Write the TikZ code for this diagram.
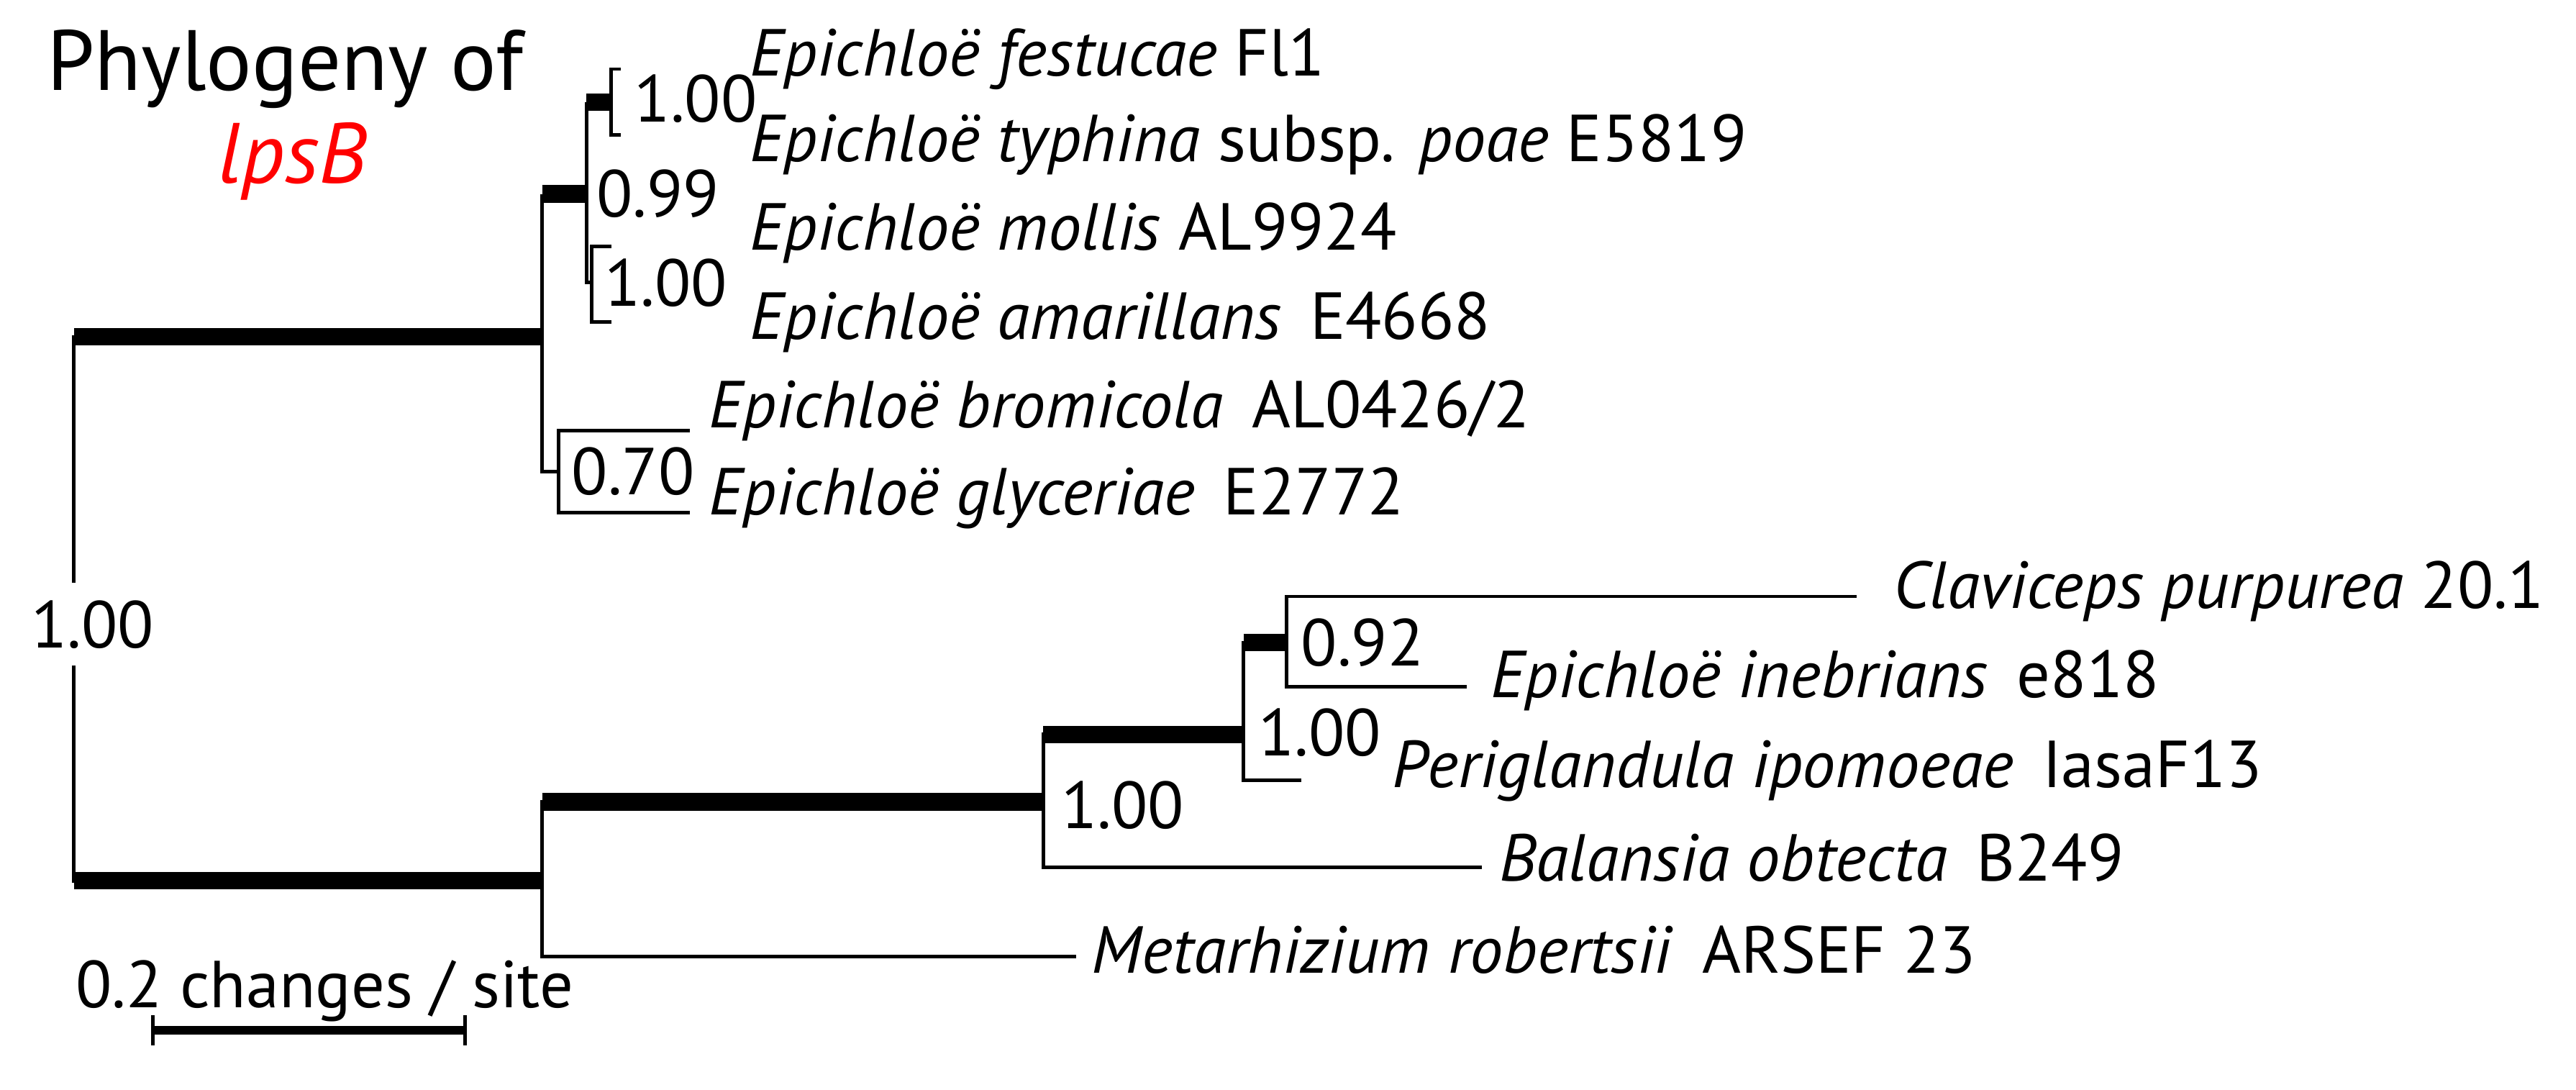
\documentclass[tikz,border=0pt]{standalone}
\usepackage{fontspec}
\setmainfont{PT Sans}
\begin{document}
\begin{tikzpicture}[x=0.01cm,y=-0.01cm,line width=0.6pt,
    every node/.style={inner sep=1pt,font=\fontsize{11.5}{13}\selectfont},
    tip/.style={anchor=west},
    sup/.style={anchor=west,inner sep=0pt},
    thk/.style={line width=3pt}]
  \useasboundingbox (0,0) rectangle (1568,663);
  % internal nodes
  \coordinate (root) at (45,380);
  \coordinate (epi) at (330,205);
  \coordinate (out) at (330,536);
  \coordinate (n99) at (357,118);
  \coordinate (n100a) at (372,62);
  \coordinate (n100b) at (360,172);
  \coordinate (n70) at (340,287);
  \coordinate (n100c) at (635,488);
  \coordinate (n100d) at (757,447);
  \coordinate (n92) at (783,391);
  % tips
  \node[tip] (fest) at (452,36) {\textit{Epichloë festucae} Fl1};
  \node[tip] (typh) at (452,88) {\textit{Epichloë typhina} subsp. \textit{poae} E5819};
  \node[tip] (moll) at (452,142) {\textit{Epichloë mollis} AL9924};
  \node[tip] (amar) at (452,196) {\textit{Epichloë amarillans}\, E4668};
  \node[tip] (brom) at (427,250) {\textit{Epichloë bromicola}\, AL0426/2};
  \node[tip] (glyc) at (427,303) {\textit{Epichloë glyceriae}\, E2772};
  \node[tip] (clav) at (1148,360) {\textit{Claviceps purpurea} 20.1};
  \node[tip] (ineb) at (903,414) {\textit{Epichloë inebrians}\, e818};
  \node[tip] (peri) at (843,469) {\textit{Periglandula ipomoeae}\, IasaF13};
  \node[tip] (bala) at (908,522) {\textit{Balansia obtecta}\, B249};
  \node[tip] (meta) at (660,578) {\textit{Metarhizium robertsii}\, ARSEF 23};
  % branches
  \draw (epi) -- (root |- epi) -- (root |- out) -- (out);
  \draw[thk] (root |- epi) -- (epi);
  \draw[thk] (root |- out) -- (out);
  \draw (epi |- n99) -- (epi |- n70) -- (n70);
  \draw[thk] (epi |- n99) -- (n99);
  \draw (n99 |- n100a) -- (n99 |- n100b) -- (n100b);
  \draw[thk] (n99 |- n100a) -- (n100a);
  \draw (378,42) -| (n100a) |- (378,82);
  \draw (372,150) -| (n100b) |- (372,196);
  \draw (420,262) -| (n70) |- (420,312);
  \draw (655,582) -| (out) |- (n100c);
  \draw[thk] (out |- n100c) -- (n100c);
  \draw (902,528) -| (n100c) |- (n100d);
  \draw[thk] (n100c |- n100d) -- (n100d);
  \draw (792,475) -| (n100d) |- (n92);
  \draw[thk] (n100d |- n92) -- (n92);
  \draw (1130,363) -| (n92) |- (893,418);
  % support values
  \node[sup,fill=white,inner ysep=3pt] at (18,380) {1.00};
  \node[sup] at (385,60) {1.00};
  \node[sup] at (362,118) {0.99};
  \node[sup] at (367,172) {1.00};
  \node[sup] at (347,287) {0.70};
  \node[sup] at (645,490) {1.00};
  \node[sup] at (765,446) {1.00};
  \node[sup] at (791,391) {0.92};
  % title and scale
  \node[anchor=west,font=\fontsize{14.8}{16}\selectfont] (title) at (24,42) {Phylogeny of};
  \node[font=\fontsize{14.8}{16}\selectfont\itshape,text=red] (gene) at (178,98) {lpsB};
  \node[sup] (scale) at (45,603) {0.2 changes / site};
  \coordinate (sa) at (93,627);
  \coordinate (sb) at (283,627);
  \draw[line width=1.5pt] (sa) -- (sb);
  \draw (93,618) -- (93,636) (283,618) -- (283,636);
\end{tikzpicture}
\end{document}
